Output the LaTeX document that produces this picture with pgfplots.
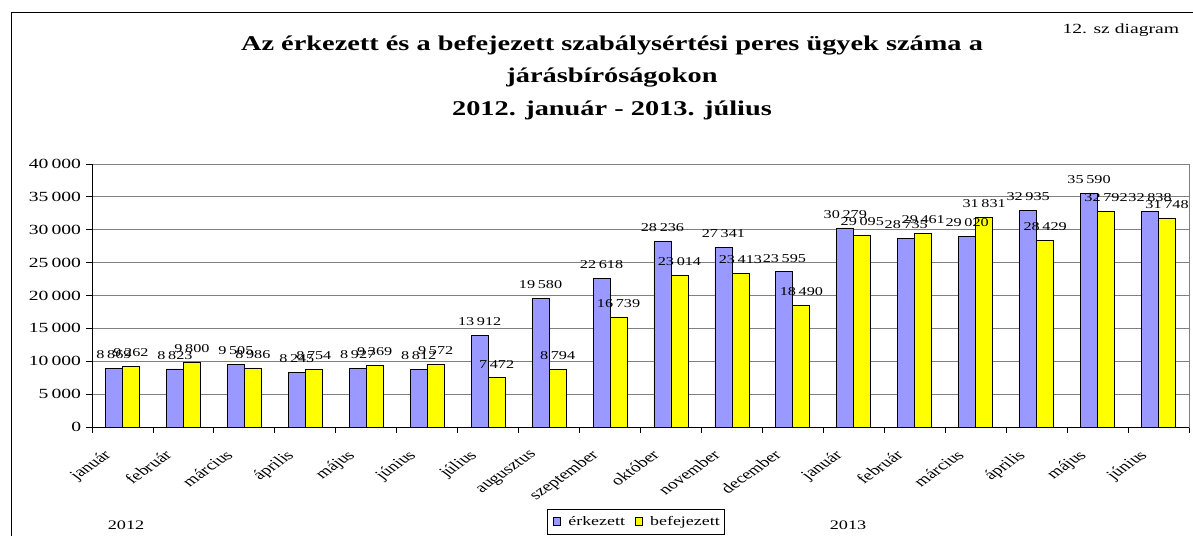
\documentclass[border=0pt]{standalone}
\usepackage{fontspec}
\setmainfont{Liberation Serif}
\usepackage{pgfplots}
\pgfplotsset{compat=1.18}
\definecolor{erk}{RGB}{153,153,255}
\definecolor{bef}{RGB}{255,255,0}
\begin{document}
\begin{tikzpicture}
\useasboundingbox (0pt,0pt) rectangle (1193pt,-535pt);
\clip (0pt,0pt) rectangle (1193pt,-535pt);
% outer frame of the chart
\draw[line width=1pt] (11pt,-600pt) -- (11pt,-13pt) -- (1230pt,-13pt);
\node[font=\fontsize{14}{16}\selectfont, anchor=east, xscale=1.4] at (1184pt,-30pt) {12. sz diagram};
\node[font=\bfseries\fontsize{21}{24}\selectfont, xscale=1.35] at (612pt,-45pt) {Az érkezett és a befejezett szabálysértési peres ügyek száma a};
\node[font=\bfseries\fontsize{21}{24}\selectfont, xscale=1.35] at (612pt,-78pt) {járásbíróságokon};
\node[font=\bfseries\fontsize{21}{24}\selectfont, xscale=1.35] at (612pt,-110pt) {2012. január - 2013. július};
\node[font=\fontsize{13}{15}\selectfont, xscale=1.4] at (126pt,-525pt) {2012};
\node[font=\fontsize{13}{15}\selectfont, xscale=1.4] at (848pt,-525pt) {2013};
\begin{axis}[
    at={(92pt,-427pt)}, anchor=south west,
    scale only axis, width=1097pt, height=263pt,
    ybar=0pt, bar width=17pt,
    xmin=-0.5, xmax=17.5, ymin=0, ymax=40000,
    xtick={-0.5,0.5,...,17.5},
    x tick label as interval,
    xticklabels={január,február,március,április,május,június,július,augusztus,szeptember,október,november,december,január,február,március,április,május,június},
    ytick={0,5000,...,40000},
    ymajorgrids, grid style={gray, line width=0.8pt},
    axis line style={gray, line width=0.8pt},
    tick align=outside, xtick pos=left, ytick pos=left,
    major tick length=6pt,
    tick style={black, line width=0.8pt},
    /pgf/number format/assume math mode=true,
    /pgf/number format/1000 sep={\,},
    scaled y ticks=false,
    yticklabel style={font=\fontsize{14}{16}\selectfont, xscale=1.4},
    xticklabel style={font=\fontsize{14}{16}\selectfont, anchor=north east, inner sep=0pt,
        xshift=-20pt, yshift=-16pt, xscale=1.38, rotate=44},
    nodes near coords,
    every node near coord/.append style={font=\fontsize{12}{14}\selectfont,
        anchor=south, yshift=6pt, black, xscale=1.35},
    legend style={at={(0.4148,-0.3118)}, anchor=north west, legend columns=-1,
        font=\fontsize{13}{15}\selectfont, draw=black, line width=0.6pt,
        inner xsep=2pt, inner ysep=5pt,
        /tikz/every even column/.append style={column sep=4pt}},
    legend image code/.code={\draw[#1, line width=0.6pt] (0pt,-4pt) rectangle (7pt,4pt);
        \path[draw=none, fill=none] (-4pt,0pt) -- (13pt,0pt);},
]
\addplot[fill=erk, draw=black, line width=0.8pt] coordinates {
(0,8869) (1,8823) (2,9505) (3,8245) (4,8927) (5,8812) (6,13912) (7,19580) (8,22618)
(9,28236) (10,27341) (11,23595) (12,30279) (13,28735) (14,29020) (15,32935) (16,35590) (17,32838)};
\addplot[fill=bef, draw=black, line width=0.8pt] coordinates {
(0,9262) (1,9800) (2,8986) (3,8754) (4,9369) (5,9572) (6,7472) (7,8794) (8,16739)
(9,23014) (10,23413) (11,18490) (12,29095) (13,29461) (14,31831) (15,28429) (16,32792) (17,31748)};
\legend{\scalebox{1.38}[1]{érkezett}, \scalebox{1.38}[1]{befejezett}}
% dark left and bottom axis lines
\draw[black, line width=0.8pt] (rel axis cs:0,1) -- (rel axis cs:0,0) -- (rel axis cs:1,0);
\end{axis}
\end{tikzpicture}
\end{document}
